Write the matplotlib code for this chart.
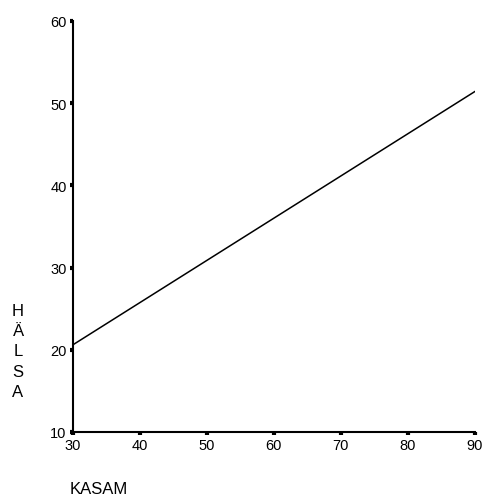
import numpy as np
import matplotlib
matplotlib.use("Agg")
import matplotlib.pyplot as plt

# regression line endpoints
kasam = [30, 90]
halsa = [20.6, 51.4]

x_ticks = [30, 40, 50, 60, 70, 80, 90]
y_ticks = [10, 20, 30, 40, 50, 60]

plt.rcParams["font.family"] = ["Liberation Sans", "DejaVu Sans"]

fig = plt.figure(figsize=(4.86, 5.02), dpi=100)
ax = fig.add_axes([0.150, 0.1375, 0.827, 0.819])

ax.plot(kasam, halsa, color="black", linewidth=1.1)

ax.set_xlim(30, 90)
ax.set_ylim(10, 60)
ax.set_xticks(x_ticks)
ax.set_yticks(y_ticks)
ax.tick_params(direction="out", length=2.5, width=3, labelsize=10.5, pad=2,
               colors="black")

for side in ["top", "right"]:
    ax.spines[side].set_visible(False)
for side in ["left", "bottom"]:
    ax.spines[side].set_linewidth(1.5)

# stacked axis titles
fig.text(18 / 486, 1 - 352 / 502, "H\nÄ\nL\nS\nA", fontsize=12,
         ha="center", va="center", linespacing=1.45)
fig.text(70 / 486, 1 - 490 / 502, "KASAM", fontsize=12,
         ha="left", va="center")

fig.savefig("out.png", dpi=100)
